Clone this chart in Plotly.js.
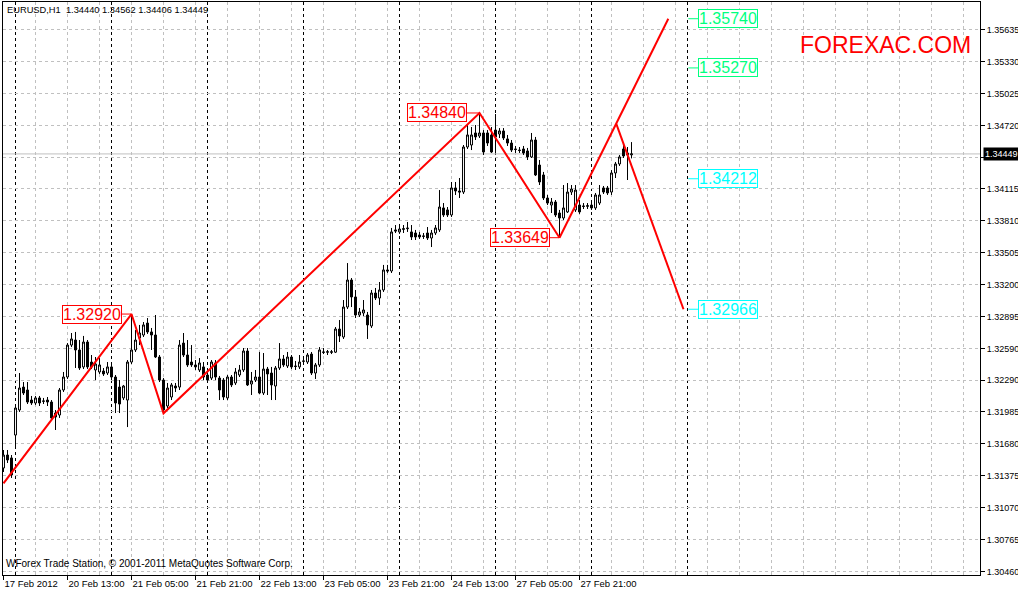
<!DOCTYPE html>
<html><head><meta charset="utf-8">
<script src="https://cdn.plot.ly/plotly-3.0.1.min.js"></script>
<style>html,body{margin:0;padding:0;background:#fff;}#chart{width:1018px;height:592px;}</style>
</head><body><div id="chart"></div>
<script>
// EURUSD H1 candles (bar index 0 = 17 Feb 2012 21:00)
const openP = [1.31450,1.31574,1.31546,1.31765,1.32004,1.32223,1.32195,1.32099,1.32071,1.32119,
1.32090,1.32099,1.32080,1.31975,1.31956,1.32195,1.32319,1.32624,1.32672,1.32577,
1.32415,1.32653,1.32462,1.32386,1.32367,1.32376,1.32357,1.32415,1.32319,1.32223,
1.32119,1.32099,1.32462,1.32577,1.32691,1.32720,1.32834,1.32749,1.32720,1.32510,
1.32290,1.32042,1.32128,1.32233,1.32223,1.32643,1.32529,1.32462,1.32434,1.32386,
1.32415,1.32338,1.32309,1.32453,1.32309,1.32290,1.32119,1.32319,1.32262,1.32338,
1.32386,1.32567,1.32252,1.32290,1.32319,1.32166,1.32395,1.32357,1.32233,1.32405,
1.32491,1.32424,1.32510,1.32424,1.32415,1.32472,1.32462,1.32538,1.32357,1.32434,
1.32558,1.32555,1.32560,1.32556,1.32777,1.32701,1.32987,1.33245,1.33083,1.32911,
1.32930,1.32911,1.32806,1.33121,1.33073,1.33150,1.33341,1.33331,1.33723,1.33704,
1.33728,1.33735,1.33704,1.33694,1.33675,1.33666,1.33694,1.33646,1.33694,1.33723,
1.33933,1.33914,1.33866,1.34124,1.34095,1.34085,1.34515,1.34534,1.34649,1.34620,
1.34649,1.34649,1.34630,1.34677,1.34639,1.34668,1.34592,1.34553,1.34496,1.34486,
1.34496,1.34477,1.34420,1.34582,1.34343,1.34248,1.34028,1.33961,1.33990,1.33885,
1.33837,1.33895,1.34085,1.33914,1.33961,1.33952,1.33948,1.33961,1.33933,1.33980,
1.34124,1.34124,1.34085,1.34267,1.34353,1.34496,1.34439,1.34440];
const highP = [1.31622,1.31622,1.31574,1.32052,1.32357,1.32271,1.32271,1.32138,1.32138,1.32138,
1.32119,1.32128,1.32099,1.32004,1.32214,1.32367,1.32643,1.32739,1.32749,1.32672,
1.32711,1.32672,1.32529,1.32510,1.32500,1.32405,1.32462,1.32434,1.32338,1.32290,
1.32243,1.32481,1.32920,1.32768,1.32816,1.32844,1.32882,1.32787,1.32911,1.32529,
1.32309,1.32262,1.32262,1.32262,1.32672,1.32739,1.32672,1.32624,1.32481,1.32500,
1.32462,1.32386,1.32481,1.32481,1.32329,1.32309,1.32338,1.32338,1.32405,1.32434,
1.32596,1.32596,1.32367,1.32386,1.32558,1.32548,1.32415,1.32415,1.32424,1.32643,
1.32529,1.32558,1.32529,1.32472,1.32529,1.32500,1.32548,1.32558,1.32453,1.32605,
1.32596,1.32577,1.32577,1.32796,1.32863,1.33054,1.33407,1.33264,1.33150,1.32978,
1.33054,1.32940,1.33150,1.33169,1.33226,1.33389,1.33389,1.33742,1.33770,1.33780,
1.33770,1.33799,1.33770,1.33723,1.33704,1.33694,1.33751,1.33723,1.33770,1.34104,
1.33980,1.33942,1.34181,1.34181,1.34219,1.34534,1.34725,1.34706,1.34725,1.34840,
1.34677,1.34677,1.34706,1.34830,1.34696,1.34696,1.34630,1.34582,1.34525,1.34515,
1.34525,1.34506,1.34649,1.34611,1.34391,1.34277,1.34057,1.34028,1.34009,1.33914,
1.34152,1.34171,1.34152,1.34152,1.34009,1.33980,1.33980,1.33990,1.34076,1.34152,
1.34143,1.34143,1.34295,1.34372,1.34439,1.34534,1.34515,1.34562];
const lowP = [1.31412,1.31498,1.31355,1.31651,1.31985,1.32147,1.32061,1.32052,1.32052,1.32042,
1.32061,1.32042,1.31918,1.31813,1.31928,1.32176,1.32300,1.32605,1.32405,1.32386,
1.32395,1.32395,1.32395,1.32290,1.32348,1.32329,1.32338,1.32290,1.31975,1.31975,
1.32099,1.31841,1.32443,1.32558,1.32624,1.32701,1.32730,1.32577,1.32500,1.32271,
1.31972,1.32023,1.32099,1.32176,1.32195,1.32510,1.32415,1.32415,1.32386,1.32367,
1.32290,1.32271,1.32290,1.32290,1.32099,1.32099,1.32099,1.32223,1.32243,1.32319,
1.32367,1.32233,1.32147,1.32271,1.32157,1.32147,1.32147,1.32099,1.32099,1.32386,
1.32415,1.32405,1.32395,1.32386,1.32395,1.32443,1.32443,1.32338,1.32300,1.32415,
1.32538,1.32529,1.32538,1.32548,1.32653,1.32682,1.32968,1.32987,1.32882,1.32892,
1.32901,1.32682,1.32787,1.33054,1.33007,1.33131,1.33312,1.33312,1.33694,1.33685,
1.33694,1.33704,1.33627,1.33627,1.33637,1.33637,1.33627,1.33560,1.33675,1.33704,
1.33847,1.33847,1.33847,1.34057,1.34028,1.34066,1.34496,1.34486,1.34582,1.34601,
1.34439,1.34525,1.34458,1.34458,1.34601,1.34582,1.34525,1.34467,1.34458,1.34458,
1.34439,1.34391,1.34410,1.34238,1.34152,1.34009,1.33961,1.33885,1.33847,1.33649,
1.33818,1.33885,1.34057,1.33895,1.33876,1.33923,1.33923,1.33914,1.33914,1.33961,
1.34066,1.34057,1.34057,1.34219,1.34334,1.34410,1.34200,1.34406];
const closeP = [1.31574,1.31527,1.31383,1.32023,1.32214,1.32166,1.32080,1.32071,1.32119,1.32071,
1.32088,1.32080,1.31928,1.31937,1.32195,1.32319,1.32624,1.32682,1.32577,1.32405,
1.32653,1.32415,1.32415,1.32443,1.32434,1.32348,1.32415,1.32319,1.32071,1.32061,
1.32233,1.32462,1.32577,1.32672,1.32739,1.32816,1.32749,1.32720,1.32510,1.32290,
1.32004,1.32214,1.32243,1.32214,1.32624,1.32529,1.32434,1.32434,1.32415,1.32453,
1.32319,1.32290,1.32462,1.32319,1.32195,1.32128,1.32319,1.32243,1.32367,1.32386,
1.32567,1.32243,1.32281,1.32319,1.32166,1.32395,1.32348,1.32243,1.32405,1.32491,
1.32434,1.32510,1.32415,1.32420,1.32462,1.32470,1.32529,1.32357,1.32434,1.32577,
1.32555,1.32560,1.32556,1.32777,1.32711,1.32987,1.33245,1.33083,1.32911,1.32940,
1.32959,1.32816,1.33121,1.33073,1.33150,1.33341,1.33331,1.33704,1.33713,1.33732,
1.33735,1.33740,1.33656,1.33656,1.33656,1.33662,1.33646,1.33694,1.33742,1.33942,
1.33866,1.33866,1.34124,1.34095,1.34085,1.34515,1.34630,1.34630,1.34611,1.34649,
1.34467,1.34553,1.34467,1.34611,1.34668,1.34601,1.34553,1.34486,1.34492,1.34482,
1.34458,1.34420,1.34582,1.34248,1.34181,1.34028,1.33980,1.33990,1.33866,1.33837,
1.33933,1.34085,1.34114,1.34104,1.33895,1.33948,1.33955,1.33933,1.34057,1.34057,
1.34085,1.34076,1.34267,1.34353,1.34420,1.34429,1.34458,1.34449];

// time axis labels (bar index -> label)
const tickIdx = [0,16,32,48,64,80,96,112,128,144];
const tickLabels = ['17 Feb 2012','20 Feb 13:00','21 Feb 05:00','21 Feb 21:00','22 Feb 13:00',
  '23 Feb 05:00','23 Feb 21:00','24 Feb 13:00','27 Feb 05:00','27 Feb 21:00'];
const daySeparatorIdx = [3,27,51,75,99,123,147,171];

// price axis
const priceTicks = [1.35635,1.35330,1.35025,1.34720,1.34415,1.34115,1.33810,1.33505,1.33200,
  1.32895,1.32590,1.32290,1.31985,1.31680,1.31375,1.31070,1.30765,1.30460];
const priceTickText = ['1.35635','1.35330','1.35025','1.34720','','1.34115','1.33810','1.33505','1.33200',
  '1.32895','1.32590','1.32290','1.31985','1.31680','1.31375','1.31070','1.30765','1.30460'];

// zigzag / projection
const zigzagIdx = [0,32,40,119,139];
const zigzagPrice = [1.31304,1.32920,1.31972,1.34840,1.33649];
const projUpIdx = [139,166.2];
const projUpPrice = [1.33649,1.35740];
const projDownIdx = [153.2,170];
const projDownPrice = [1.34735,1.32966];
const pivotIdx = [32,119,139];
const pivotPrice = [1.32920,1.34840,1.33649];
const pivotText = ['1.32920','1.34840','1.33649'];
const targetIdx = 171.2;
const targetPrice = [1.35740,1.35270,1.34212,1.32966];
const targetText = ['1.35740','1.35270','1.34212','1.32966'];
const lastPrice = 1.34449;
const headerText = 'EURUSD,H1\u00a0\u00a01.34440 1.34562 1.34406 1.34449';

const barIdx = openP.map((_, i) => i);
const FONT = 'Liberation Sans, Arial, sans-serif';
const targetColors = ['#00FF7F','#00FF7F','#00FFFF','#00FFFF'];
const pivotArrowShift = [-10,-13,-10];

const traces = [
  {type:'candlestick', x:barIdx, open:openP, high:highP, low:lowP, close:closeP,
   increasing:{line:{color:'#000',width:1}, fillcolor:'#fff'},
   decreasing:{line:{color:'#000',width:1}, fillcolor:'#000'},
   whiskerwidth:0, hoverinfo:'skip', showlegend:false},
  {type:'scatter', mode:'lines', x:zigzagIdx, y:zigzagPrice, line:{color:'#ff0000',width:2}, hoverinfo:'skip', showlegend:false},
  {type:'scatter', mode:'lines', x:projUpIdx, y:projUpPrice, line:{color:'#ff0000',width:2}, hoverinfo:'skip', showlegend:false},
  {type:'scatter', mode:'lines', x:projDownIdx, y:projDownPrice, line:{color:'#ff0000',width:2}, hoverinfo:'skip', showlegend:false}
];

const shapes = daySeparatorIdx.map(d => ({type:'line', xref:'x', yref:'paper', x0:d, x1:d, y0:0, y1:1,
  line:{color:'#000', width:1, dash:'3px,3px'}, layer:'below'}));
shapes.push({type:'line', xref:'paper', yref:'y', x0:0, x1:1, y0:lastPrice, y1:lastPrice,
  line:{color:'#c0c0c0', width:1}, layer:'below'});

const annotations = [];
pivotIdx.forEach((p, i) => annotations.push({x:p, y:pivotPrice[i], xref:'x', yref:'y', text:pivotText[i],
  showarrow:true, arrowhead:0, arrowwidth:1, arrowcolor:'#ff0000', ax:pivotArrowShift[i], ay:0, xanchor:'right',
  bordercolor:'#ff0000', borderwidth:1, borderpad:0, bgcolor:'#fff', font:{family:FONT, size:16, color:'#ff0000'}}));
targetPrice.forEach((p, i) => annotations.push({x:targetIdx, y:p, xref:'x', yref:'y', text:targetText[i],
  showarrow:true, arrowhead:0, arrowwidth:1, arrowcolor:targetColors[i], ax:10, ay:0, xanchor:'left',
  bordercolor:targetColors[i], borderwidth:1, borderpad:0, bgcolor:'#fff', font:{family:FONT, size:16, color:targetColors[i]}}));
annotations.push({xref:'paper', yref:'paper', x:0, y:1, xanchor:'left', yanchor:'top', xshift:2, yshift:-1,
  text:headerText, showarrow:false, font:{family:FONT, size:9.3, color:'#000'}});
annotations.push({xref:'paper', yref:'paper', x:0, y:0, xanchor:'left', yanchor:'bottom', xshift:1, yshift:4,
  text:'WForex Trade Station, © 2001-2011 MetaQuotes Software Corp.', showarrow:false, font:{family:FONT, size:10, color:'#000'}});
annotations.push({xref:'paper', yref:'paper', x:0.8137, y:0.9258, xanchor:'left', yanchor:'middle',
  text:'FOREXAC.COM', showarrow:false, font:{family:FONT, size:23, color:'#ff0000'}});
annotations.push({xref:'paper', yref:'y', x:1, y:lastPrice, xanchor:'left', yanchor:'middle', xshift:3,
  text:lastPrice.toFixed(5), showarrow:false, bgcolor:'#000', borderpad:1, font:{family:FONT, size:9, color:'#fff'}});

const layout = {
  width:1018, height:592, margin:{l:3, r:38, t:2, b:17},
  paper_bgcolor:'#fff', plot_bgcolor:'#fff', showlegend:false,
  xaxis:{range:[-0.125,244.125], tickmode:'array', tickvals:tickIdx, ticktext:tickLabels, tickangle:0,
    ticks:'outside', ticklen:4, tickcolor:'#000', ticklabelposition:'outside right',
    showline:true, linecolor:'#000', linewidth:1, mirror:true, zeroline:false,
    showgrid:true, gridcolor:'#c0c0c0', griddash:'3px,3px', gridwidth:1,
    minor:{tickmode:'linear', tick0:0, dtick:8, showgrid:true, gridcolor:'#c0c0c0', griddash:'3px,3px', ticklen:0},
    rangeslider:{visible:false}, tickfont:{family:FONT, size:9.5, color:'#000'}, fixedrange:true},
  yaxis:{range:[1.304285,1.358995], side:'right', tickmode:'array', tickvals:priceTicks, ticktext:priceTickText,
    ticks:'outside', ticklen:4, tickcolor:'#000', showline:true, linecolor:'#000', linewidth:1, mirror:true, zeroline:false,
    showgrid:true, gridcolor:'#c0c0c0', griddash:'3px,3px', gridwidth:1,
    tickfont:{family:FONT, size:9, color:'#000'}, fixedrange:true},
  shapes:shapes, annotations:annotations
};

Plotly.newPlot('chart', traces, layout, {staticPlot:true, displayModeBar:false});
</script></body></html>
